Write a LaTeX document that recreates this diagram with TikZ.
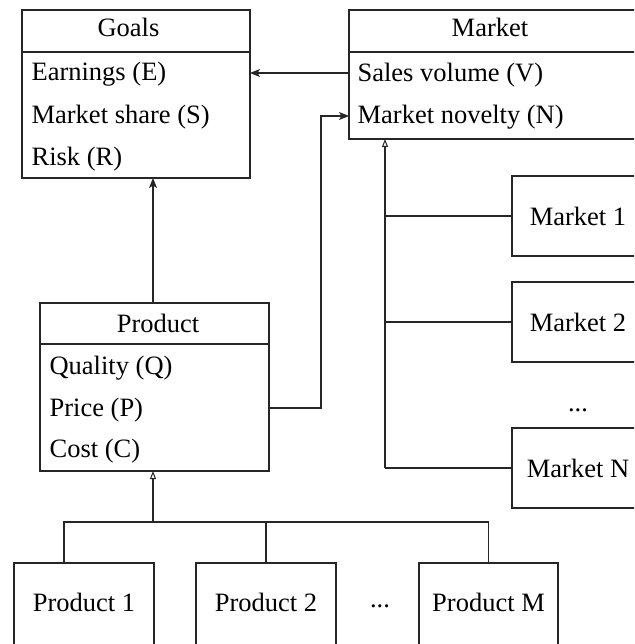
\documentclass[tikz,border=0pt]{standalone}
\usepackage{fontspec}
\setmainfont{Liberation Serif}
\usetikzlibrary{arrows.meta}
\begin{document}
\begin{tikzpicture}[x=1pt,y=1pt,
  line width=1.2pt, draw=black!85,
  box/.style={draw=black!85, line width=1.2pt, rectangle, inner sep=0pt, outer sep=0pt},
  txt/.style={anchor=base west, inner sep=0pt, font=\fontsize{26.5}{30}\selectfont},
  htxt/.style={anchor=base, inner sep=0pt, font=\fontsize{26.5}{30}\selectfont},
  itxt/.style={inner sep=0pt, font=\fontsize{26.5}{30}\selectfont},
  solidtip/.style={-{Stealth[length=10pt,width=8pt,inset=2.5pt]}},
  opentip/.style={-{Triangle[open,length=8pt,width=6pt,line width=1pt]}}]
\useasboundingbox (0,0) rectangle (634,-644);
\clip (0,0) rectangle (634,-644);
\fill[white] (0,0) rectangle (634,-644);

% Goals
\node[box, minimum width=228pt, minimum height=168pt] (goals) at (136,-94) {};
\draw (goals.north west) ++(0,-42) -- ++(228,0);
\node[htxt] (goalsT) at (128.5,-37) {Goals};
\node[txt] (gE) at (31,-81) {Earnings (E)};
\node[txt] (gS) at (31,-124) {Market share (S)};
\node[txt] (gR) at (31,-166) {Risk (R)};

% Market
\node[box, minimum width=295pt, minimum height=129pt] (mkt) at (496.5,-74.5) {};
\draw (mkt.north west) ++(0,-42) -- ++(295,0);
\node[htxt] (mktT) at (490,-37) {Market};
\node[txt] (mV) at (357,-82) {Sales volume (V)};
\node[txt] (mN) at (357,-124) {Market novelty (N)};

% Product
\node[box, minimum width=229pt, minimum height=168pt] (prod) at (154.5,-387) {};
\draw (prod.north west) ++(0,-41) -- ++(229,0);
\node[htxt] (prodT) at (158,-332) {Product};
\node[txt] (pQ) at (49,-374) {Quality (Q)};
\node[txt] (pP) at (49,-416) {Price (P)};
\node[txt] (pC) at (49,-457) {Cost (C)};

% Markets
\node[box, itxt, minimum width=132pt, minimum height=80pt] (m1) at (578,-216) {Market 1};
\node[box, itxt, minimum width=132pt, minimum height=80pt] (m2) at (578,-322) {Market 2};
\node[itxt] (mdots) at (578,-410) {...};
\node[box, itxt, minimum width=132pt, minimum height=80pt] (m3) at (578,-468) {Market N};

% Products
\node[box, minimum width=140pt, minimum height=84pt] (p1) at (84,-605) {};
\node[itxt] (p1t) at (84,-602) {Product 1};
\node[box, minimum width=140pt, minimum height=84pt] (p2) at (266,-605) {};
\node[itxt] (p2t) at (266,-602) {Product 2};
\node[itxt] (pdots) at (380,-606) {...};
\node[box, minimum width=139pt, minimum height=84pt] (pM) at (488.5,-605) {};
\node[itxt] (pMt) at (488.5,-602) {Product M};

% helper coordinates
\coordinate (yV) at (0,-73);
\coordinate (yN) at (0,-116);
\coordinate (yP) at (0,-408);
\coordinate (xR) at (321,0);
\coordinate (xM) at (385,0);
\coordinate (bus) at (0,-522);
\coordinate (x1) at (64,0);
\coordinate (xa) at (153,0);

% Market -> Goals
\draw[solidtip] (mkt.west |- yV) -- (goals.east |- yV);
% Product -> Goals
\draw[solidtip] (prod.north -| xa) -- (goals.south -| xa);
% Product price -> Market novelty
\draw[solidtip] (prod.east |- yP) -- (xR |- yP) -- (xR |- yN) -- (mkt.west |- yN);
% Markets -> Market
\draw[opentip] (xM |- m3.west) -- (mkt.south -| xM);
\draw (m1.west) -- (xM |- m1.west);
\draw (m2.west) -- (xM |- m2.west);
\draw (m3.west) -- (xM |- m3.west);
% Products -> Product
\draw (p1.north -| x1) -- (x1 |- bus) -- (pM.north |- bus) -- (pM.north);
\draw (p2.north) -- (p2.north |- bus);
\draw[opentip] (xa |- bus) -- (prod.south -| xa);
\end{tikzpicture}
\end{document}
